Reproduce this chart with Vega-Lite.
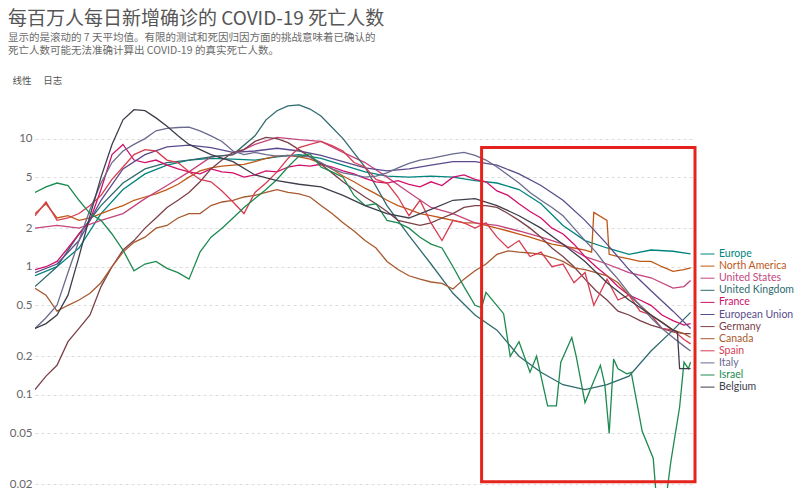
{
"$schema":"https://vega.github.io/schema/vega-lite/v6.json",
"autosize":{"type":"none"},
"padding":{"left":35,"top":100,"right":105,"bottom":0},
"width":660,"height":423,
"background":"white",
"title":{"text":"每百万人每日新增确诊的 COVID-19 死亡人数","subtitle":["显示的是滚动的 7 天平均值。有限的测试和死因归因方面的挑战意味着已确认的","死亡人数可能无法准确计算出 COVID-19 的真实死亡人数。"],"anchor":"start","frame":"group","dx":-27,"offset":19,"font":"Noto Sans CJK SC","fontSize":19,"fontWeight":"normal","color":"#555555","subtitleFont":"Noto Sans CJK SC","subtitleFontSize":10.5,"subtitleColor":"#6b6b6b","subtitleLineHeight":13,"subtitlePadding":4},
"config":{"view":{"stroke":null},"font":"Lato"},
"layer":[
{"data":{"values":[
{"country":"Europe","date":"2020-09-28","value":0.85},{"country":"Europe","date":"2020-10-08","value":1.0},{"country":"Europe","date":"2020-10-18","value":1.4},{"country":"Europe","date":"2020-10-28","value":2.6},{"country":"Europe","date":"2020-11-07","value":4.0},{"country":"Europe","date":"2020-11-17","value":5.3},{"country":"Europe","date":"2020-11-27","value":6.2},{"country":"Europe","date":"2020-12-07","value":6.8},{"country":"Europe","date":"2020-12-17","value":7.0},{"country":"Europe","date":"2020-12-27","value":6.9},{"country":"Europe","date":"2021-01-06","value":6.8},{"country":"Europe","date":"2021-01-16","value":7.2},{"country":"Europe","date":"2021-01-26","value":7.5},{"country":"Europe","date":"2021-02-05","value":7.0},{"country":"Europe","date":"2021-02-15","value":6.2},{"country":"Europe","date":"2021-02-25","value":5.5},{"country":"Europe","date":"2021-03-07","value":5.1},{"country":"Europe","date":"2021-03-17","value":5.0},{"country":"Europe","date":"2021-03-27","value":5.1},{"country":"Europe","date":"2021-04-06","value":5.0},{"country":"Europe","date":"2021-04-16","value":4.7},{"country":"Europe","date":"2021-04-26","value":4.5},{"country":"Europe","date":"2021-05-06","value":4.0},{"country":"Europe","date":"2021-05-16","value":3.1},{"country":"Europe","date":"2021-05-26","value":2.1},{"country":"Europe","date":"2021-06-05","value":1.6},{"country":"Europe","date":"2021-06-15","value":1.4},{"country":"Europe","date":"2021-06-25","value":1.25},{"country":"Europe","date":"2021-07-05","value":1.35},{"country":"Europe","date":"2021-07-15","value":1.32},{"country":"Europe","date":"2021-07-23","value":1.26},
{"country":"North America","date":"2020-09-28","value":2.6},{"country":"North America","date":"2020-10-03","value":3.1},{"country":"North America","date":"2020-10-08","value":2.4},{"country":"North America","date":"2020-10-13","value":2.5},{"country":"North America","date":"2020-10-18","value":2.3},{"country":"North America","date":"2020-10-23","value":2.4},{"country":"North America","date":"2020-10-28","value":2.6},{"country":"North America","date":"2020-11-02","value":2.8},{"country":"North America","date":"2020-11-07","value":3.0},{"country":"North America","date":"2020-11-12","value":3.3},{"country":"North America","date":"2020-11-17","value":3.5},{"country":"North America","date":"2020-11-22","value":3.7},{"country":"North America","date":"2020-11-27","value":4.0},{"country":"North America","date":"2020-12-02","value":4.4},{"country":"North America","date":"2020-12-07","value":5.0},{"country":"North America","date":"2020-12-12","value":5.6},{"country":"North America","date":"2020-12-17","value":5.9},{"country":"North America","date":"2020-12-22","value":6.1},{"country":"North America","date":"2020-12-27","value":6.2},{"country":"North America","date":"2021-01-01","value":6.3},{"country":"North America","date":"2021-01-06","value":6.6},{"country":"North America","date":"2021-01-11","value":7.0},{"country":"North America","date":"2021-01-16","value":7.3},{"country":"North America","date":"2021-01-21","value":7.4},{"country":"North America","date":"2021-01-26","value":7.2},{"country":"North America","date":"2021-01-31","value":6.9},{"country":"North America","date":"2021-02-05","value":6.4},{"country":"North America","date":"2021-02-10","value":5.8},{"country":"North America","date":"2021-02-15","value":5.1},{"country":"North America","date":"2021-02-20","value":4.6},{"country":"North America","date":"2021-02-25","value":4.1},{"country":"North America","date":"2021-03-02","value":3.7},{"country":"North America","date":"2021-03-07","value":3.3},{"country":"North America","date":"2021-03-12","value":3.0},{"country":"North America","date":"2021-03-17","value":2.8},{"country":"North America","date":"2021-03-22","value":2.6},{"country":"North America","date":"2021-03-27","value":2.5},{"country":"North America","date":"2021-04-01","value":2.4},{"country":"North America","date":"2021-04-06","value":2.3},{"country":"North America","date":"2021-04-11","value":2.2},{"country":"North America","date":"2021-04-16","value":2.2},{"country":"North America","date":"2021-04-21","value":2.1},{"country":"North America","date":"2021-04-26","value":2.0},{"country":"North America","date":"2021-05-01","value":1.9},{"country":"North America","date":"2021-05-06","value":1.8},{"country":"North America","date":"2021-05-11","value":1.7},{"country":"North America","date":"2021-05-16","value":1.6},{"country":"North America","date":"2021-05-21","value":1.5},{"country":"North America","date":"2021-05-26","value":1.45},{"country":"North America","date":"2021-05-31","value":1.4},{"country":"North America","date":"2021-06-05","value":1.35},{"country":"North America","date":"2021-06-08","value":1.3},{"country":"North America","date":"2021-06-09","value":2.65},{"country":"North America","date":"2021-06-15","value":2.3},{"country":"North America","date":"2021-06-16","value":1.25},{"country":"North America","date":"2021-06-20","value":1.2},{"country":"North America","date":"2021-06-25","value":1.15},{"country":"North America","date":"2021-06-30","value":1.1},{"country":"North America","date":"2021-07-05","value":1.1},{"country":"North America","date":"2021-07-10","value":1.0},{"country":"North America","date":"2021-07-15","value":0.92},{"country":"North America","date":"2021-07-20","value":0.95},{"country":"North America","date":"2021-07-23","value":0.98},
{"country":"United States","date":"2020-09-28","value":2.0},{"country":"United States","date":"2020-10-08","value":2.1},{"country":"United States","date":"2020-10-18","value":2.0},{"country":"United States","date":"2020-10-28","value":2.3},{"country":"United States","date":"2020-11-07","value":2.6},{"country":"United States","date":"2020-11-17","value":3.4},{"country":"United States","date":"2020-11-27","value":4.3},{"country":"United States","date":"2020-12-07","value":5.5},{"country":"United States","date":"2020-12-17","value":7.2},{"country":"United States","date":"2020-12-27","value":7.5},{"country":"United States","date":"2021-01-06","value":9.0},{"country":"United States","date":"2021-01-16","value":10.2},{"country":"United States","date":"2021-01-26","value":9.8},{"country":"United States","date":"2021-02-05","value":9.5},{"country":"United States","date":"2021-02-15","value":7.8},{"country":"United States","date":"2021-02-25","value":6.5},{"country":"United States","date":"2021-03-07","value":5.0},{"country":"United States","date":"2021-03-17","value":3.8},{"country":"United States","date":"2021-03-27","value":2.9},{"country":"United States","date":"2021-04-06","value":2.6},{"country":"United States","date":"2021-04-16","value":2.2},{"country":"United States","date":"2021-04-26","value":2.1},{"country":"United States","date":"2021-05-06","value":1.9},{"country":"United States","date":"2021-05-16","value":1.7},{"country":"United States","date":"2021-05-26","value":1.5},{"country":"United States","date":"2021-06-05","value":1.2},{"country":"United States","date":"2021-06-15","value":1.05},{"country":"United States","date":"2021-06-25","value":0.9},{"country":"United States","date":"2021-07-05","value":0.82},{"country":"United States","date":"2021-07-15","value":0.68},{"country":"United States","date":"2021-07-20","value":0.7},{"country":"United States","date":"2021-07-23","value":0.78},
{"country":"United Kingdom","date":"2020-09-28","value":0.7},{"country":"United Kingdom","date":"2020-10-08","value":1.0},{"country":"United Kingdom","date":"2020-10-18","value":1.8},{"country":"United Kingdom","date":"2020-10-28","value":3.0},{"country":"United Kingdom","date":"2020-11-07","value":4.5},{"country":"United Kingdom","date":"2020-11-17","value":5.8},{"country":"United Kingdom","date":"2020-11-27","value":6.5},{"country":"United Kingdom","date":"2020-12-07","value":6.8},{"country":"United Kingdom","date":"2020-12-17","value":7.2},{"country":"United Kingdom","date":"2020-12-27","value":7.5},{"country":"United Kingdom","date":"2021-01-06","value":10.5},{"country":"United Kingdom","date":"2021-01-11","value":14},{"country":"United Kingdom","date":"2021-01-16","value":16.5},{"country":"United Kingdom","date":"2021-01-21","value":18},{"country":"United Kingdom","date":"2021-01-26","value":18.3},{"country":"United Kingdom","date":"2021-01-31","value":17},{"country":"United Kingdom","date":"2021-02-05","value":15},{"country":"United Kingdom","date":"2021-02-15","value":10},{"country":"United Kingdom","date":"2021-02-25","value":6.0},{"country":"United Kingdom","date":"2021-03-07","value":3.0},{"country":"United Kingdom","date":"2021-03-17","value":1.75},{"country":"United Kingdom","date":"2021-03-27","value":1.05},{"country":"United Kingdom","date":"2021-04-06","value":0.62},{"country":"United Kingdom","date":"2021-04-16","value":0.42},{"country":"United Kingdom","date":"2021-04-26","value":0.32},{"country":"United Kingdom","date":"2021-05-06","value":0.2},{"country":"United Kingdom","date":"2021-05-16","value":0.15},{"country":"United Kingdom","date":"2021-05-26","value":0.12},{"country":"United Kingdom","date":"2021-06-05","value":0.11},{"country":"United Kingdom","date":"2021-06-15","value":0.12},{"country":"United Kingdom","date":"2021-06-25","value":0.14},{"country":"United Kingdom","date":"2021-07-05","value":0.22},{"country":"United Kingdom","date":"2021-07-15","value":0.32},{"country":"United Kingdom","date":"2021-07-23","value":0.44},
{"country":"France","date":"2020-09-28","value":0.95},{"country":"France","date":"2020-10-03","value":1.0},{"country":"France","date":"2020-10-08","value":1.1},{"country":"France","date":"2020-10-13","value":1.4},{"country":"France","date":"2020-10-18","value":1.8},{"country":"France","date":"2020-10-23","value":2.3},{"country":"France","date":"2020-10-28","value":4.0},{"country":"France","date":"2020-11-02","value":7.5},{"country":"France","date":"2020-11-07","value":9.0},{"country":"France","date":"2020-11-12","value":6.8},{"country":"France","date":"2020-11-17","value":6.5},{"country":"France","date":"2020-11-22","value":6.8},{"country":"France","date":"2020-11-27","value":6.2},{"country":"France","date":"2020-12-02","value":5.8},{"country":"France","date":"2020-12-07","value":5.5},{"country":"France","date":"2020-12-12","value":5.3},{"country":"France","date":"2020-12-17","value":5.8},{"country":"France","date":"2020-12-22","value":5.5},{"country":"France","date":"2020-12-27","value":5.4},{"country":"France","date":"2021-01-01","value":5.0},{"country":"France","date":"2021-01-06","value":5.2},{"country":"France","date":"2021-01-11","value":5.6},{"country":"France","date":"2021-01-16","value":5.5},{"country":"France","date":"2021-01-21","value":6.0},{"country":"France","date":"2021-01-26","value":6.2},{"country":"France","date":"2021-01-31","value":6.1},{"country":"France","date":"2021-02-05","value":6.3},{"country":"France","date":"2021-02-10","value":6.0},{"country":"France","date":"2021-02-15","value":5.6},{"country":"France","date":"2021-02-20","value":5.3},{"country":"France","date":"2021-02-25","value":4.9},{"country":"France","date":"2021-03-02","value":4.6},{"country":"France","date":"2021-03-07","value":4.5},{"country":"France","date":"2021-03-12","value":4.7},{"country":"France","date":"2021-03-17","value":4.4},{"country":"France","date":"2021-03-22","value":4.2},{"country":"France","date":"2021-03-27","value":4.6},{"country":"France","date":"2021-04-01","value":4.3},{"country":"France","date":"2021-04-06","value":5.0},{"country":"France","date":"2021-04-11","value":5.2},{"country":"France","date":"2021-04-16","value":4.8},{"country":"France","date":"2021-04-21","value":4.6},{"country":"France","date":"2021-04-26","value":3.9},{"country":"France","date":"2021-05-01","value":3.6},{"country":"France","date":"2021-05-06","value":3.1},{"country":"France","date":"2021-05-11","value":2.7},{"country":"France","date":"2021-05-16","value":2.4},{"country":"France","date":"2021-05-21","value":2.0},{"country":"France","date":"2021-05-26","value":1.8},{"country":"France","date":"2021-05-31","value":1.5},{"country":"France","date":"2021-06-05","value":1.2},{"country":"France","date":"2021-06-10","value":1.0},{"country":"France","date":"2021-06-15","value":0.85},{"country":"France","date":"2021-06-20","value":0.7},{"country":"France","date":"2021-06-25","value":0.6},{"country":"France","date":"2021-06-30","value":0.55},{"country":"France","date":"2021-07-05","value":0.5},{"country":"France","date":"2021-07-10","value":0.42},{"country":"France","date":"2021-07-15","value":0.38},{"country":"France","date":"2021-07-20","value":0.35},{"country":"France","date":"2021-07-23","value":0.36},
{"country":"European Union","date":"2020-09-28","value":0.9},{"country":"European Union","date":"2020-10-08","value":1.05},{"country":"European Union","date":"2020-10-18","value":1.6},{"country":"European Union","date":"2020-10-28","value":3.3},{"country":"European Union","date":"2020-11-07","value":5.8},{"country":"European Union","date":"2020-11-17","value":7.5},{"country":"European Union","date":"2020-11-27","value":8.6},{"country":"European Union","date":"2020-12-07","value":8.9},{"country":"European Union","date":"2020-12-17","value":8.5},{"country":"European Union","date":"2020-12-27","value":7.8},{"country":"European Union","date":"2021-01-06","value":8.0},{"country":"European Union","date":"2021-01-16","value":8.4},{"country":"European Union","date":"2021-01-26","value":8.0},{"country":"European Union","date":"2021-02-05","value":7.4},{"country":"European Union","date":"2021-02-15","value":6.6},{"country":"European Union","date":"2021-02-25","value":5.9},{"country":"European Union","date":"2021-03-07","value":5.6},{"country":"European Union","date":"2021-03-17","value":5.8},{"country":"European Union","date":"2021-03-27","value":6.2},{"country":"European Union","date":"2021-04-06","value":6.6},{"country":"European Union","date":"2021-04-16","value":6.6},{"country":"European Union","date":"2021-04-26","value":6.2},{"country":"European Union","date":"2021-05-06","value":5.3},{"country":"European Union","date":"2021-05-16","value":4.3},{"country":"European Union","date":"2021-05-26","value":3.3},{"country":"European Union","date":"2021-06-05","value":2.3},{"country":"European Union","date":"2021-06-15","value":1.5},{"country":"European Union","date":"2021-06-25","value":0.95},{"country":"European Union","date":"2021-07-05","value":0.65},{"country":"European Union","date":"2021-07-15","value":0.45},{"country":"European Union","date":"2021-07-23","value":0.33},
{"country":"Germany","date":"2020-09-28","value":0.11},{"country":"Germany","date":"2020-10-03","value":0.14},{"country":"Germany","date":"2020-10-08","value":0.17},{"country":"Germany","date":"2020-10-13","value":0.26},{"country":"Germany","date":"2020-10-18","value":0.33},{"country":"Germany","date":"2020-10-23","value":0.42},{"country":"Germany","date":"2020-10-28","value":0.7},{"country":"Germany","date":"2020-11-02","value":1.0},{"country":"Germany","date":"2020-11-07","value":1.35},{"country":"Germany","date":"2020-11-12","value":1.6},{"country":"Germany","date":"2020-11-17","value":2.0},{"country":"Germany","date":"2020-11-22","value":2.4},{"country":"Germany","date":"2020-11-27","value":2.9},{"country":"Germany","date":"2020-12-02","value":3.3},{"country":"Germany","date":"2020-12-07","value":3.8},{"country":"Germany","date":"2020-12-12","value":4.6},{"country":"Germany","date":"2020-12-17","value":5.8},{"country":"Germany","date":"2020-12-22","value":6.8},{"country":"Germany","date":"2020-12-27","value":7.8},{"country":"Germany","date":"2021-01-01","value":8.2},{"country":"Germany","date":"2021-01-06","value":9.5},{"country":"Germany","date":"2021-01-11","value":10.2},{"country":"Germany","date":"2021-01-16","value":10.0},{"country":"Germany","date":"2021-01-21","value":9.3},{"country":"Germany","date":"2021-01-26","value":8.2},{"country":"Germany","date":"2021-01-31","value":7.2},{"country":"Germany","date":"2021-02-05","value":6.3},{"country":"Germany","date":"2021-02-10","value":5.4},{"country":"Germany","date":"2021-02-15","value":4.6},{"country":"Germany","date":"2021-02-20","value":4.0},{"country":"Germany","date":"2021-02-25","value":3.5},{"country":"Germany","date":"2021-03-02","value":3.1},{"country":"Germany","date":"2021-03-07","value":2.7},{"country":"Germany","date":"2021-03-12","value":2.3},{"country":"Germany","date":"2021-03-17","value":2.2},{"country":"Germany","date":"2021-03-22","value":2.1},{"country":"Germany","date":"2021-03-27","value":2.2},{"country":"Germany","date":"2021-04-01","value":2.4},{"country":"Germany","date":"2021-04-06","value":2.6},{"country":"Germany","date":"2021-04-11","value":2.9},{"country":"Germany","date":"2021-04-16","value":3.0},{"country":"Germany","date":"2021-04-21","value":3.0},{"country":"Germany","date":"2021-04-26","value":2.9},{"country":"Germany","date":"2021-05-01","value":2.6},{"country":"Germany","date":"2021-05-06","value":2.3},{"country":"Germany","date":"2021-05-11","value":2.0},{"country":"Germany","date":"2021-05-16","value":1.7},{"country":"Germany","date":"2021-05-21","value":1.4},{"country":"Germany","date":"2021-05-26","value":1.2},{"country":"Germany","date":"2021-05-31","value":1.0},{"country":"Germany","date":"2021-06-05","value":0.8},{"country":"Germany","date":"2021-06-10","value":0.65},{"country":"Germany","date":"2021-06-15","value":0.55},{"country":"Germany","date":"2021-06-20","value":0.45},{"country":"Germany","date":"2021-06-25","value":0.42},{"country":"Germany","date":"2021-06-30","value":0.38},{"country":"Germany","date":"2021-07-05","value":0.35},{"country":"Germany","date":"2021-07-10","value":0.33},{"country":"Germany","date":"2021-07-15","value":0.31},{"country":"Germany","date":"2021-07-20","value":0.3},{"country":"Germany","date":"2021-07-23","value":0.3},
{"country":"Canada","date":"2020-09-28","value":0.68},{"country":"Canada","date":"2020-10-03","value":0.6},{"country":"Canada","date":"2020-10-08","value":0.45},{"country":"Canada","date":"2020-10-13","value":0.5},{"country":"Canada","date":"2020-10-18","value":0.55},{"country":"Canada","date":"2020-10-23","value":0.62},{"country":"Canada","date":"2020-10-28","value":0.75},{"country":"Canada","date":"2020-11-02","value":1.0},{"country":"Canada","date":"2020-11-07","value":1.3},{"country":"Canada","date":"2020-11-12","value":1.55},{"country":"Canada","date":"2020-11-17","value":1.7},{"country":"Canada","date":"2020-11-22","value":2.0},{"country":"Canada","date":"2020-11-27","value":2.1},{"country":"Canada","date":"2020-12-02","value":2.4},{"country":"Canada","date":"2020-12-07","value":2.6},{"country":"Canada","date":"2020-12-12","value":2.6},{"country":"Canada","date":"2020-12-17","value":3.0},{"country":"Canada","date":"2020-12-22","value":3.2},{"country":"Canada","date":"2020-12-27","value":3.3},{"country":"Canada","date":"2021-01-01","value":3.5},{"country":"Canada","date":"2021-01-06","value":3.6},{"country":"Canada","date":"2021-01-11","value":3.8},{"country":"Canada","date":"2021-01-16","value":4.0},{"country":"Canada","date":"2021-01-21","value":3.8},{"country":"Canada","date":"2021-01-26","value":3.7},{"country":"Canada","date":"2021-01-31","value":3.5},{"country":"Canada","date":"2021-02-05","value":3.0},{"country":"Canada","date":"2021-02-10","value":2.6},{"country":"Canada","date":"2021-02-15","value":2.2},{"country":"Canada","date":"2021-02-20","value":1.9},{"country":"Canada","date":"2021-02-25","value":1.6},{"country":"Canada","date":"2021-03-02","value":1.4},{"country":"Canada","date":"2021-03-07","value":1.1},{"country":"Canada","date":"2021-03-12","value":0.95},{"country":"Canada","date":"2021-03-17","value":0.85},{"country":"Canada","date":"2021-03-22","value":0.8},{"country":"Canada","date":"2021-03-27","value":0.76},{"country":"Canada","date":"2021-04-01","value":0.74},{"country":"Canada","date":"2021-04-06","value":0.67},{"country":"Canada","date":"2021-04-11","value":0.8},{"country":"Canada","date":"2021-04-16","value":0.93},{"country":"Canada","date":"2021-04-21","value":1.05},{"country":"Canada","date":"2021-04-26","value":1.25},{"country":"Canada","date":"2021-05-01","value":1.33},{"country":"Canada","date":"2021-05-06","value":1.3},{"country":"Canada","date":"2021-05-11","value":1.28},{"country":"Canada","date":"2021-05-16","value":1.25},{"country":"Canada","date":"2021-05-21","value":1.18},{"country":"Canada","date":"2021-05-26","value":1.1},{"country":"Canada","date":"2021-05-31","value":0.98},{"country":"Canada","date":"2021-06-05","value":0.95},{"country":"Canada","date":"2021-06-10","value":0.9},{"country":"Canada","date":"2021-06-15","value":0.85},{"country":"Canada","date":"2021-06-20","value":0.75},{"country":"Canada","date":"2021-06-25","value":0.6},{"country":"Canada","date":"2021-06-30","value":0.5},{"country":"Canada","date":"2021-07-05","value":0.42},{"country":"Canada","date":"2021-07-10","value":0.37},{"country":"Canada","date":"2021-07-15","value":0.32},{"country":"Canada","date":"2021-07-20","value":0.3},{"country":"Canada","date":"2021-07-23","value":0.28},
{"country":"Spain","date":"2020-09-28","value":2.5},{"country":"Spain","date":"2020-10-03","value":3.2},{"country":"Spain","date":"2020-10-08","value":2.3},{"country":"Spain","date":"2020-10-13","value":2.4},{"country":"Spain","date":"2020-10-18","value":2.6},{"country":"Spain","date":"2020-10-23","value":3.0},{"country":"Spain","date":"2020-10-28","value":3.6},{"country":"Spain","date":"2020-11-02","value":4.8},{"country":"Spain","date":"2020-11-07","value":6.0},{"country":"Spain","date":"2020-11-12","value":7.5},{"country":"Spain","date":"2020-11-17","value":8.2},{"country":"Spain","date":"2020-11-22","value":8.0},{"country":"Spain","date":"2020-11-27","value":6.8},{"country":"Spain","date":"2020-12-02","value":6.5},{"country":"Spain","date":"2020-12-07","value":5.5},{"country":"Spain","date":"2020-12-12","value":4.8},{"country":"Spain","date":"2020-12-17","value":4.6},{"country":"Spain","date":"2020-12-22","value":3.9},{"country":"Spain","date":"2020-12-27","value":3.2},{"country":"Spain","date":"2021-01-01","value":2.6},{"country":"Spain","date":"2021-01-06","value":3.8},{"country":"Spain","date":"2021-01-11","value":4.5},{"country":"Spain","date":"2021-01-16","value":5.5},{"country":"Spain","date":"2021-01-21","value":7.0},{"country":"Spain","date":"2021-01-26","value":8.5},{"country":"Spain","date":"2021-01-31","value":9.0},{"country":"Spain","date":"2021-02-05","value":9.5},{"country":"Spain","date":"2021-02-10","value":8.8},{"country":"Spain","date":"2021-02-15","value":8.0},{"country":"Spain","date":"2021-02-20","value":6.5},{"country":"Spain","date":"2021-02-25","value":6.0},{"country":"Spain","date":"2021-03-02","value":4.8},{"country":"Spain","date":"2021-03-07","value":4.5},{"country":"Spain","date":"2021-03-12","value":3.5},{"country":"Spain","date":"2021-03-17","value":2.5},{"country":"Spain","date":"2021-03-22","value":3.3},{"country":"Spain","date":"2021-03-27","value":2.2},{"country":"Spain","date":"2021-04-01","value":1.6},{"country":"Spain","date":"2021-04-06","value":2.3},{"country":"Spain","date":"2021-04-11","value":2.2},{"country":"Spain","date":"2021-04-16","value":2.0},{"country":"Spain","date":"2021-04-21","value":2.2},{"country":"Spain","date":"2021-04-26","value":1.7},{"country":"Spain","date":"2021-05-01","value":1.4},{"country":"Spain","date":"2021-05-06","value":1.6},{"country":"Spain","date":"2021-05-11","value":1.2},{"country":"Spain","date":"2021-05-16","value":1.3},{"country":"Spain","date":"2021-05-21","value":1.0},{"country":"Spain","date":"2021-05-26","value":1.05},{"country":"Spain","date":"2021-05-31","value":0.75},{"country":"Spain","date":"2021-06-05","value":0.9},{"country":"Spain","date":"2021-06-09","value":0.5},{"country":"Spain","date":"2021-06-15","value":0.8},{"country":"Spain","date":"2021-06-20","value":0.55},{"country":"Spain","date":"2021-06-25","value":0.6},{"country":"Spain","date":"2021-06-30","value":0.45},{"country":"Spain","date":"2021-07-05","value":0.42},{"country":"Spain","date":"2021-07-10","value":0.33},{"country":"Spain","date":"2021-07-15","value":0.32},{"country":"Spain","date":"2021-07-20","value":0.27},{"country":"Spain","date":"2021-07-23","value":0.25},
{"country":"Italy","date":"2020-09-28","value":0.33},{"country":"Italy","date":"2020-10-03","value":0.4},{"country":"Italy","date":"2020-10-08","value":0.5},{"country":"Italy","date":"2020-10-13","value":0.9},{"country":"Italy","date":"2020-10-18","value":1.6},{"country":"Italy","date":"2020-10-23","value":2.8},{"country":"Italy","date":"2020-10-28","value":4.5},{"country":"Italy","date":"2020-11-02","value":6.5},{"country":"Italy","date":"2020-11-07","value":8.0},{"country":"Italy","date":"2020-11-12","value":9.0},{"country":"Italy","date":"2020-11-17","value":10},{"country":"Italy","date":"2020-11-22","value":11.5},{"country":"Italy","date":"2020-11-27","value":12},{"country":"Italy","date":"2020-12-02","value":12.2},{"country":"Italy","date":"2020-12-07","value":12.3},{"country":"Italy","date":"2020-12-12","value":11.5},{"country":"Italy","date":"2020-12-17","value":10.5},{"country":"Italy","date":"2020-12-22","value":9.5},{"country":"Italy","date":"2020-12-27","value":8.0},{"country":"Italy","date":"2021-01-01","value":7.5},{"country":"Italy","date":"2021-01-06","value":7.8},{"country":"Italy","date":"2021-01-11","value":7.5},{"country":"Italy","date":"2021-01-16","value":7.3},{"country":"Italy","date":"2021-01-21","value":7.4},{"country":"Italy","date":"2021-01-26","value":7.3},{"country":"Italy","date":"2021-01-31","value":7.2},{"country":"Italy","date":"2021-02-05","value":6.5},{"country":"Italy","date":"2021-02-10","value":5.8},{"country":"Italy","date":"2021-02-15","value":5.4},{"country":"Italy","date":"2021-02-20","value":5.2},{"country":"Italy","date":"2021-02-25","value":5.0},{"country":"Italy","date":"2021-03-02","value":5.1},{"country":"Italy","date":"2021-03-07","value":5.4},{"country":"Italy","date":"2021-03-12","value":5.9},{"country":"Italy","date":"2021-03-17","value":6.4},{"country":"Italy","date":"2021-03-22","value":6.8},{"country":"Italy","date":"2021-03-27","value":7.0},{"country":"Italy","date":"2021-04-01","value":7.3},{"country":"Italy","date":"2021-04-06","value":7.6},{"country":"Italy","date":"2021-04-11","value":7.8},{"country":"Italy","date":"2021-04-16","value":7.4},{"country":"Italy","date":"2021-04-21","value":6.8},{"country":"Italy","date":"2021-04-26","value":6.0},{"country":"Italy","date":"2021-05-01","value":5.2},{"country":"Italy","date":"2021-05-06","value":4.5},{"country":"Italy","date":"2021-05-11","value":3.8},{"country":"Italy","date":"2021-05-16","value":3.3},{"country":"Italy","date":"2021-05-21","value":2.9},{"country":"Italy","date":"2021-05-26","value":2.5},{"country":"Italy","date":"2021-05-31","value":2.0},{"country":"Italy","date":"2021-06-05","value":1.6},{"country":"Italy","date":"2021-06-10","value":1.3},{"country":"Italy","date":"2021-06-15","value":1.0},{"country":"Italy","date":"2021-06-20","value":0.8},{"country":"Italy","date":"2021-06-25","value":0.62},{"country":"Italy","date":"2021-06-30","value":0.5},{"country":"Italy","date":"2021-07-05","value":0.4},{"country":"Italy","date":"2021-07-10","value":0.33},{"country":"Italy","date":"2021-07-15","value":0.28},{"country":"Italy","date":"2021-07-20","value":0.24},{"country":"Italy","date":"2021-07-23","value":0.22},
{"country":"Israel","date":"2020-09-28","value":3.8},{"country":"Israel","date":"2020-10-03","value":4.2},{"country":"Israel","date":"2020-10-08","value":4.5},{"country":"Israel","date":"2020-10-13","value":4.3},{"country":"Israel","date":"2020-10-18","value":3.3},{"country":"Israel","date":"2020-10-23","value":2.6},{"country":"Israel","date":"2020-10-28","value":2.3},{"country":"Israel","date":"2020-11-02","value":1.8},{"country":"Israel","date":"2020-11-07","value":1.35},{"country":"Israel","date":"2020-11-12","value":0.93},{"country":"Israel","date":"2020-11-17","value":1.05},{"country":"Israel","date":"2020-11-22","value":1.1},{"country":"Israel","date":"2020-11-27","value":0.97},{"country":"Israel","date":"2020-12-02","value":0.9},{"country":"Israel","date":"2020-12-07","value":0.8},{"country":"Israel","date":"2020-12-12","value":1.3},{"country":"Israel","date":"2020-12-17","value":1.7},{"country":"Israel","date":"2020-12-22","value":2.0},{"country":"Israel","date":"2020-12-27","value":2.4},{"country":"Israel","date":"2021-01-01","value":2.9},{"country":"Israel","date":"2021-01-06","value":3.4},{"country":"Israel","date":"2021-01-11","value":4.0},{"country":"Israel","date":"2021-01-16","value":4.8},{"country":"Israel","date":"2021-01-21","value":6.0},{"country":"Israel","date":"2021-01-26","value":7.3},{"country":"Israel","date":"2021-01-31","value":7.6},{"country":"Israel","date":"2021-02-05","value":6.0},{"country":"Israel","date":"2021-02-10","value":5.5},{"country":"Israel","date":"2021-02-15","value":5.0},{"country":"Israel","date":"2021-02-20","value":3.6},{"country":"Israel","date":"2021-02-25","value":3.0},{"country":"Israel","date":"2021-03-02","value":3.1},{"country":"Israel","date":"2021-03-07","value":2.3},{"country":"Israel","date":"2021-03-12","value":2.2},{"country":"Israel","date":"2021-03-17","value":2.0},{"country":"Israel","date":"2021-03-22","value":1.7},{"country":"Israel","date":"2021-03-27","value":1.5},{"country":"Israel","date":"2021-04-01","value":1.4},{"country":"Israel","date":"2021-04-06","value":1.0},{"country":"Israel","date":"2021-04-11","value":0.7},{"country":"Israel","date":"2021-04-16","value":0.5},{"country":"Israel","date":"2021-04-19","value":0.48},{"country":"Israel","date":"2021-04-21","value":0.63},{"country":"Israel","date":"2021-04-29","value":0.43},{"country":"Israel","date":"2021-05-02","value":0.2},{"country":"Israel","date":"2021-05-06","value":0.26},{"country":"Israel","date":"2021-05-11","value":0.15},{"country":"Israel","date":"2021-05-14","value":0.2},{"country":"Israel","date":"2021-05-19","value":0.082},{"country":"Israel","date":"2021-05-23","value":0.082},{"country":"Israel","date":"2021-05-25","value":0.18},{"country":"Israel","date":"2021-05-30","value":0.28},{"country":"Israel","date":"2021-06-01","value":0.2},{"country":"Israel","date":"2021-06-05","value":0.087},{"country":"Israel","date":"2021-06-09","value":0.128},{"country":"Israel","date":"2021-06-12","value":0.17},{"country":"Israel","date":"2021-06-14","value":0.12},{"country":"Israel","date":"2021-06-16","value":0.05},{"country":"Israel","date":"2021-06-18","value":0.19},{"country":"Israel","date":"2021-06-20","value":0.16},{"country":"Israel","date":"2021-06-24","value":0.146},{"country":"Israel","date":"2021-06-26","value":0.15},{"country":"Israel","date":"2021-07-01","value":0.052},{"country":"Israel","date":"2021-07-06","value":0.032},{"country":"Israel","date":"2021-07-08","value":0.012},{"country":"Israel","date":"2021-07-11","value":0.012},{"country":"Israel","date":"2021-07-14","value":0.03},{"country":"Israel","date":"2021-07-18","value":0.08},{"country":"Israel","date":"2021-07-20","value":0.18},{"country":"Israel","date":"2021-07-22","value":0.16},{"country":"Israel","date":"2021-07-23","value":0.18},
{"country":"Belgium","date":"2020-09-28","value":0.33},{"country":"Belgium","date":"2020-10-03","value":0.36},{"country":"Belgium","date":"2020-10-08","value":0.42},{"country":"Belgium","date":"2020-10-13","value":0.6},{"country":"Belgium","date":"2020-10-18","value":1.2},{"country":"Belgium","date":"2020-10-23","value":2.5},{"country":"Belgium","date":"2020-10-28","value":5.0},{"country":"Belgium","date":"2020-11-02","value":9.0},{"country":"Belgium","date":"2020-11-07","value":14},{"country":"Belgium","date":"2020-11-12","value":16.8},{"country":"Belgium","date":"2020-11-17","value":16.5},{"country":"Belgium","date":"2020-11-22","value":14.5},{"country":"Belgium","date":"2020-11-27","value":12.5},{"country":"Belgium","date":"2020-12-02","value":10.5},{"country":"Belgium","date":"2020-12-07","value":9.0},{"country":"Belgium","date":"2020-12-17","value":7.5},{"country":"Belgium","date":"2020-12-27","value":6.6},{"country":"Belgium","date":"2021-01-06","value":5.2},{"country":"Belgium","date":"2021-01-16","value":4.7},{"country":"Belgium","date":"2021-01-26","value":4.4},{"country":"Belgium","date":"2021-02-05","value":4.2},{"country":"Belgium","date":"2021-02-15","value":3.6},{"country":"Belgium","date":"2021-02-25","value":3.0},{"country":"Belgium","date":"2021-03-07","value":2.6},{"country":"Belgium","date":"2021-03-17","value":2.4},{"country":"Belgium","date":"2021-03-27","value":2.8},{"country":"Belgium","date":"2021-04-06","value":3.3},{"country":"Belgium","date":"2021-04-16","value":3.4},{"country":"Belgium","date":"2021-04-26","value":3.0},{"country":"Belgium","date":"2021-05-06","value":2.5},{"country":"Belgium","date":"2021-05-16","value":2.0},{"country":"Belgium","date":"2021-05-26","value":1.5},{"country":"Belgium","date":"2021-06-05","value":1.1},{"country":"Belgium","date":"2021-06-15","value":0.75},{"country":"Belgium","date":"2021-06-25","value":0.55},{"country":"Belgium","date":"2021-07-05","value":0.42},{"country":"Belgium","date":"2021-07-15","value":0.32},{"country":"Belgium","date":"2021-07-17","value":0.31},{"country":"Belgium","date":"2021-07-18","value":0.16},{"country":"Belgium","date":"2021-07-23","value":0.16}
]},
"mark":{"type":"line","strokeWidth":1.3,"clip":true},
"encoding":{
"x":{"field":"date","type":"temporal","scale":{"domain":[{"year":2020,"month":9,"date":28,"utc":true},{"year":2021,"month":7,"date":25,"utc":true}]},"axis":null},
"y":{"field":"value","type":"quantitative","scale":{"type":"log","domain":[0.01,20],"nice":false},"axis":{"title":"线性\u3000\u00a0日志","titleAngle":0,"titleX":-23,"titleY":-20,"titleAlign":"left","titleBaseline":"middle","titleFont":"Noto Sans CJK SC","titleFontSize":9.5,"titleFontWeight":"normal","titleColor":"#555555","values":[0.02,0.05,0.1,0.2,0.5,1,2,5,10],"format":"~g","grid":true,"gridDash":[3,3],"gridColor":"#dcdcdc","domain":false,"ticks":false,"labelPadding":3,"labelColor":"#666666","labelFont":"Lato","labelFontSize":11.5}},
"color":{"field":"country","type":"nominal","scale":{"domain":["Europe","North America","United States","United Kingdom","France","European Union","Germany","Canada","Spain","Italy","Israel","Belgium"],"range":["#00847E","#C05917","#C4457E","#2F6A6E","#D0106A","#5C4B8C","#7B4048","#A8592E","#D73C50","#6A6B8E","#1E8A50","#3E3E4C"]},"legend":{"orient":"none","legendX":665,"legendY":148,"title":null,"symbolType":"stroke","symbolSize":196,"symbolStrokeWidth":1,"labelFont":"Lato","labelFontSize":10.5,"labelOffset":4,"labelLimit":200,"rowPadding":0.1,"clipHeight":12,"padding":0,"encode":{"labels":{"update":{"fill":{"scale":"color","field":"value"}}},"symbols":{"update":{"stroke":{"value":"#b5b5b5"}}}}}}
}},
{"data":{"values":[{"start":"2021-04-19","end":"2021-07-25","low":0.021,"high":8.5}]},
"mark":{"type":"rect","filled":false,"stroke":"#e3231c","strokeWidth":3},
"encoding":{"x":{"field":"start","type":"temporal"},"x2":{"field":"end"},"y":{"field":"low","type":"quantitative"},"y2":{"field":"high"}}}
]
}
